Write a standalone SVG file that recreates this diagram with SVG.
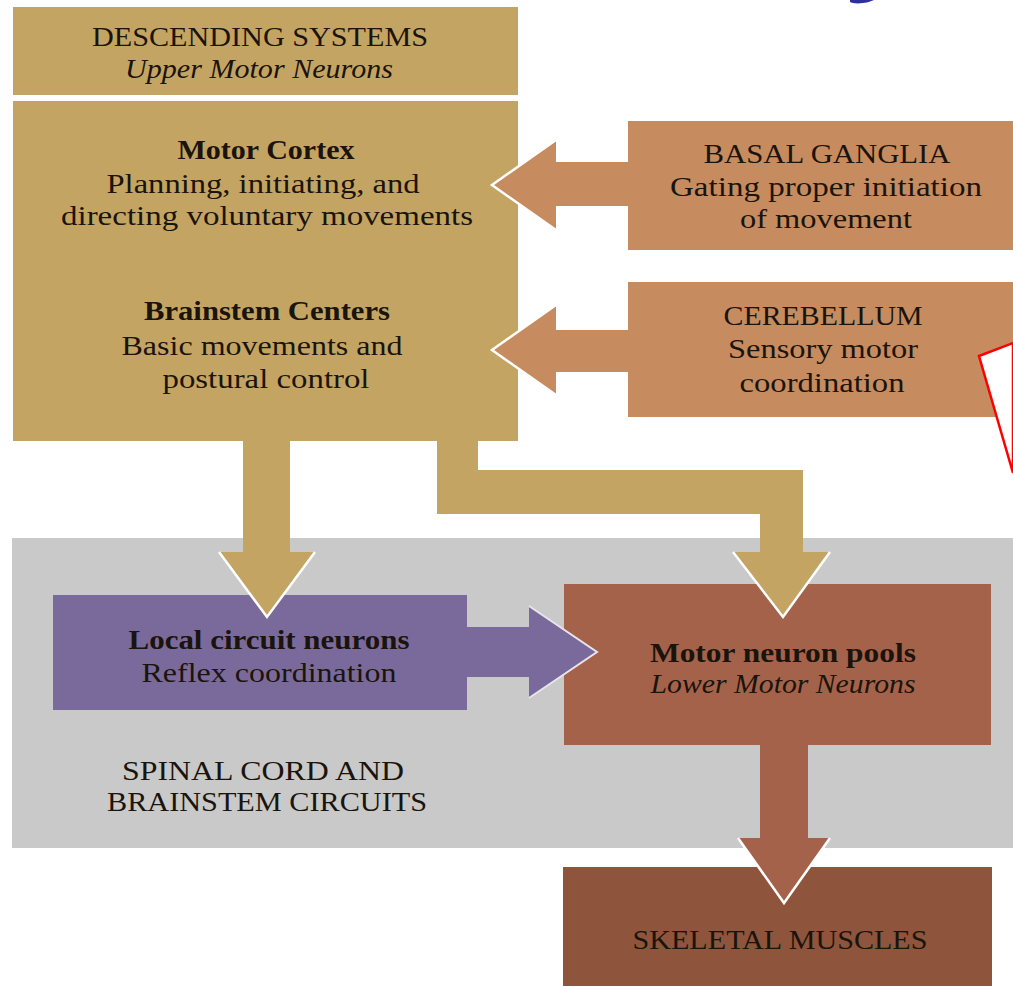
<svg xmlns="http://www.w3.org/2000/svg" width="1013" height="986" viewBox="0 0 1013 986">
  <style>
    text { font-family: "Liberation Serif", "Times New Roman", serif; font-size: 28px; fill: #1a140c; text-anchor: middle; }
    .b { font-weight: bold; }
    .i { font-style: italic; }
    .tan { fill: #C4A462; }
    .orange { fill: #C68B5E; }
    .gray { fill: #C9C9C9; }
    .purple { fill: #7A6A9B; }
    .rust { fill: #A5624A; }
    .brown { fill: #8E543C; }
    .edge { fill: none; stroke: #FFFFFF; stroke-width: 2.5; stroke-linejoin: miter; }
  </style>
  <rect width="1013" height="986" fill="#FFFFFF"/>
  <path d="M850,0 L874,0 Q868,3 858,3.5 Q852,3 850,2 Z" fill="#2E2EA0"/>

  <g id="spinal-cord">
    <rect class="gray" x="12" y="538" width="1001" height="310"/>
    <text x="263" y="780" textLength="282" lengthAdjust="spacingAndGlyphs">SPINAL CORD AND</text>
    <text x="267" y="811" textLength="320" lengthAdjust="spacingAndGlyphs">BRAINSTEM CIRCUITS</text>
  </g>

  <g id="descending-systems">
    <rect class="tan" x="13" y="7" width="505" height="88"/>
    <text x="260" y="46" font-size="29" textLength="336" lengthAdjust="spacingAndGlyphs">DESCENDING SYSTEMS</text>
    <text class="i" x="259" y="78" textLength="268" lengthAdjust="spacingAndGlyphs">Upper Motor Neurons</text>
  </g>

  <g id="motor-cortex">
    <rect class="tan" x="13" y="101" width="505" height="340"/>
    <text class="b" x="266" y="159" textLength="177" lengthAdjust="spacingAndGlyphs">Motor Cortex</text>
    <text x="263" y="193" textLength="313" lengthAdjust="spacingAndGlyphs">Planning, initiating, and</text>
    <text x="267" y="225" textLength="412" lengthAdjust="spacingAndGlyphs">directing voluntary movements</text>
    <text class="b" x="267" y="320" textLength="246" lengthAdjust="spacingAndGlyphs">Brainstem Centers</text>
    <text x="262" y="355" textLength="281" lengthAdjust="spacingAndGlyphs">Basic movements and</text>
    <text x="266" y="388" textLength="207" lengthAdjust="spacingAndGlyphs">postural control</text>
  </g>

  <g id="basal-ganglia">
    <rect class="orange" x="628" y="121" width="385" height="129"/>
    <text x="827" y="163" textLength="247" lengthAdjust="spacingAndGlyphs">BASAL GANGLIA</text>
    <text x="826" y="196" textLength="312" lengthAdjust="spacingAndGlyphs">Gating proper initiation</text>
    <text x="826" y="228" textLength="172" lengthAdjust="spacingAndGlyphs">of movement</text>
  </g>

  <g id="cerebellum">
    <rect class="orange" x="628" y="282" width="385" height="135"/>
    <text x="823" y="325" textLength="199" lengthAdjust="spacingAndGlyphs">CEREBELLUM</text>
    <text x="823" y="358" textLength="190" lengthAdjust="spacingAndGlyphs">Sensory motor</text>
    <text x="822" y="392" textLength="165" lengthAdjust="spacingAndGlyphs">coordination</text>
  </g>

  <g id="local-circuit-neurons">
    <rect class="purple" x="53" y="595" width="414" height="115"/>
    <text class="b" x="269" y="649" textLength="281" lengthAdjust="spacingAndGlyphs">Local circuit neurons</text>
    <text x="269" y="682" textLength="255" lengthAdjust="spacingAndGlyphs">Reflex coordination</text>
  </g>

  <g id="motor-neuron-pools">
    <rect class="rust" x="564" y="584" width="427" height="161"/>
    <text class="b" x="783" y="662" textLength="266" lengthAdjust="spacingAndGlyphs">Motor neuron pools</text>
    <text class="i" x="783" y="693" textLength="265" lengthAdjust="spacingAndGlyphs">Lower Motor Neurons</text>
  </g>

  <g id="skeletal-muscles">
    <rect class="brown" x="563" y="867" width="429" height="119"/>
    <text x="780" y="949" textLength="295" lengthAdjust="spacingAndGlyphs">SKELETAL MUSCLES</text>
  </g>

  <g id="connectors">
    <polygon class="orange" points="629,162 556,162 556,140 492,185 556,230 556,206 629,206"/>
    <polyline class="edge" points="556,140 492,185 556,230"/>
    <polygon class="orange" points="629,330 556,330 556,305 492,350 556,395 556,372 629,372"/>
    <polyline class="edge" points="556,305 492,350 556,395"/>
    <polygon class="tan" points="243,440 290,440 290,552 315,552 267,617 219,552 243,552"/>
    <polyline class="edge" points="315,552 267,617 219,552"/>
    <polygon class="tan" points="437,440 478,440 478,470 803,470 803,552 830,552 783,617 733,552 760,552 760,514 437,514"/>
    <polyline class="edge" points="830,552 783,617 733,552"/>
    <polygon class="purple" points="466,627 529,627 529,606 597,652 529,698 529,677 466,677"/>
    <polyline class="edge" points="529,606 597,652 529,698" style="stroke:#E8E4EE;stroke-width:2"/>
    <polygon class="rust" points="760,744 808,744 808,838 830,838 784,903 738,838 760,838"/>
    <polyline class="edge" points="830,838 784,903 738,838"/>
  </g>

  <polygon points="979,356 1013,343 1013,473" fill="#FFFFFF" stroke="#FF0000" stroke-width="2.5" stroke-linejoin="miter"/>
</svg>
